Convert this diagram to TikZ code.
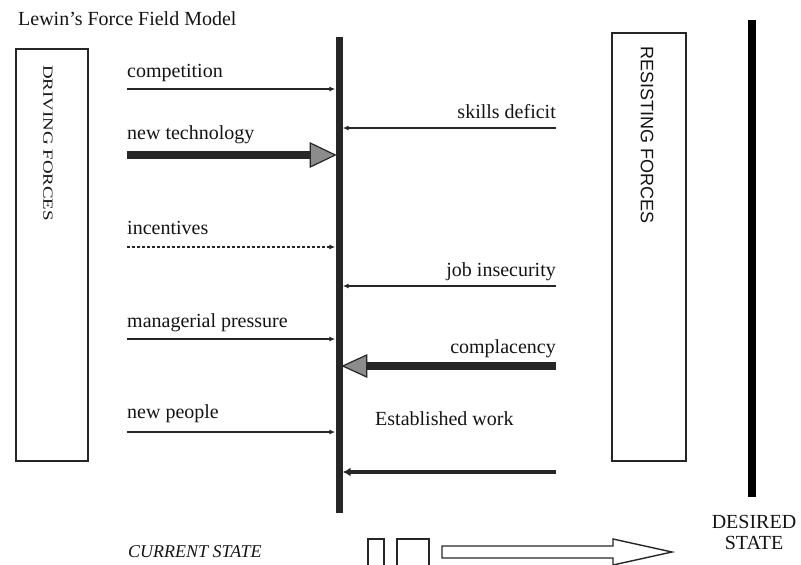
\documentclass[tikz,border=0pt]{standalone}
\usepackage{fontspec}
\setmainfont{Liberation Serif}
\newfontfamily\labelsans{Liberation Sans}
\usetikzlibrary{arrows.meta}
\begin{document}
\begin{tikzpicture}[
  x=1pt, y=-1pt,
  lbl/.style={anchor=base west, inner sep=0pt, font=\fontsize{20}{24}\selectfont, text=black!92},
  rlbl/.style={lbl, anchor=base east},
  force/.style={draw=black!85, line width=1.6pt, -{Latex[length=6pt,width=5pt]}},
  forcebox/.style={draw=black!85, line width=1.5pt, inner sep=0pt},
  bigshaft/.style={draw=black!85, line width=8pt},
  bighead/.style={fill=black!45, draw=black!85, line width=1.2pt, line join=miter},
  outline/.style={draw=black!85, line width=1.4pt}
]
\useasboundingbox (0,0) rectangle (801,565);
\clip (0,0) rectangle (801,565);

% title
\node[lbl] (title) at (18,25) {Lewin's Force Field Model};

% side boxes
\node[forcebox, minimum width=72pt, minimum height=412pt] (drive) at (52,255) {};
\node[rotate=-90, inner sep=0pt, text=black!92] (drivetxt) at (48,143)
  {\scalebox{1.35}[1]{\fontsize{14}{14}\selectfont DRIVING FORCES}};
\node[forcebox, minimum width=74pt, minimum height=428pt] (resist) at (649,247) {};
\node[rotate=-90, inner sep=0pt, text=black!92] (resisttxt) at (647,135)
  {\labelsans\fontsize{18}{18}\selectfont RESISTING FORCES};

% current equilibrium bar and desired state bar
\node[fill=black!85, inner sep=0pt, minimum width=7pt, minimum height=476pt] (bar) at (339,275) {};
\node[fill=black, inner sep=0pt, minimum width=8pt, minimum height=477pt] (goal) at (752,258.5) {};

% driving forces
\node[lbl] (l1) at (127,77) {competition};
\coordinate (d1) at (127,89);
\draw[force] (d1) -- (d1 -| bar.west);

\node[lbl] (l2) at (127,139) {new technology};
\coordinate (d2) at (127,155);
\coordinate (d2e) at (d2 -| bar.west);
\draw[bigshaft] (d2) -- ([xshift=-25pt]d2e);
\draw[bighead] (d2e) -- ++(-25,-12) -- ++(0,24) -- cycle;

\node[lbl] (l3) at (127,234) {incentives};
\coordinate (d3) at (127,247);
\draw[force, dash pattern=on 3pt off 2pt] (d3) -- (d3 -| bar.west);

\node[lbl] (l4) at (127,327) {managerial pressure};
\coordinate (d4) at (127,339);
\draw[force] (d4) -- (d4 -| bar.west);

\node[lbl] (l5) at (127,418) {new people};
\coordinate (d5) at (127,432);
\draw[force] (d5) -- (d5 -| bar.west);

% resisting forces
\node[rlbl] (r1) at (556,118) {skills deficit};
\coordinate (s1) at (556,128);
\draw[force] (s1) -- (s1 -| bar.east);

\node[rlbl] (r2) at (556,276) {job insecurity};
\coordinate (s2) at (556,286);
\draw[force] (s2) -- (s2 -| bar.east);

\node[rlbl] (r3) at (556,353) {complacency};
\coordinate (s3) at (556,366);
\coordinate (s3e) at (s3 -| bar.east);
\draw[bigshaft] (s3) -- ([xshift=24pt]s3e);
\draw[bighead] (s3e) -- ++(24,-11) -- ++(0,22) -- cycle;

\node[lbl] (r4) at (375,425) {Established work};
\coordinate (s4) at (556,472);
\draw[force, line width=3.5pt, -{Latex[length=8pt,width=9pt]}] (s4) -- (s4 -| bar.east);

% states
\node[lbl, font=\itshape\fontsize{18}{22}\selectfont] (cur) at (128,557) {CURRENT STATE};
\node[lbl, anchor=base, align=center, font=\fontsize{20}{21}\selectfont] (des) at (754,549) {DESIRED\\STATE};

% movement towards the desired state
\draw[outline] (368,539) rectangle (384,568);
\draw[outline] (397,539) rectangle (429,568);
\draw[outline, line join=miter] (442,546) -- (613,546) -- (613,539) -- (672,552)
  -- (613,565) -- (613,558) -- (442,558) -- cycle;
\end{tikzpicture}
\end{document}
